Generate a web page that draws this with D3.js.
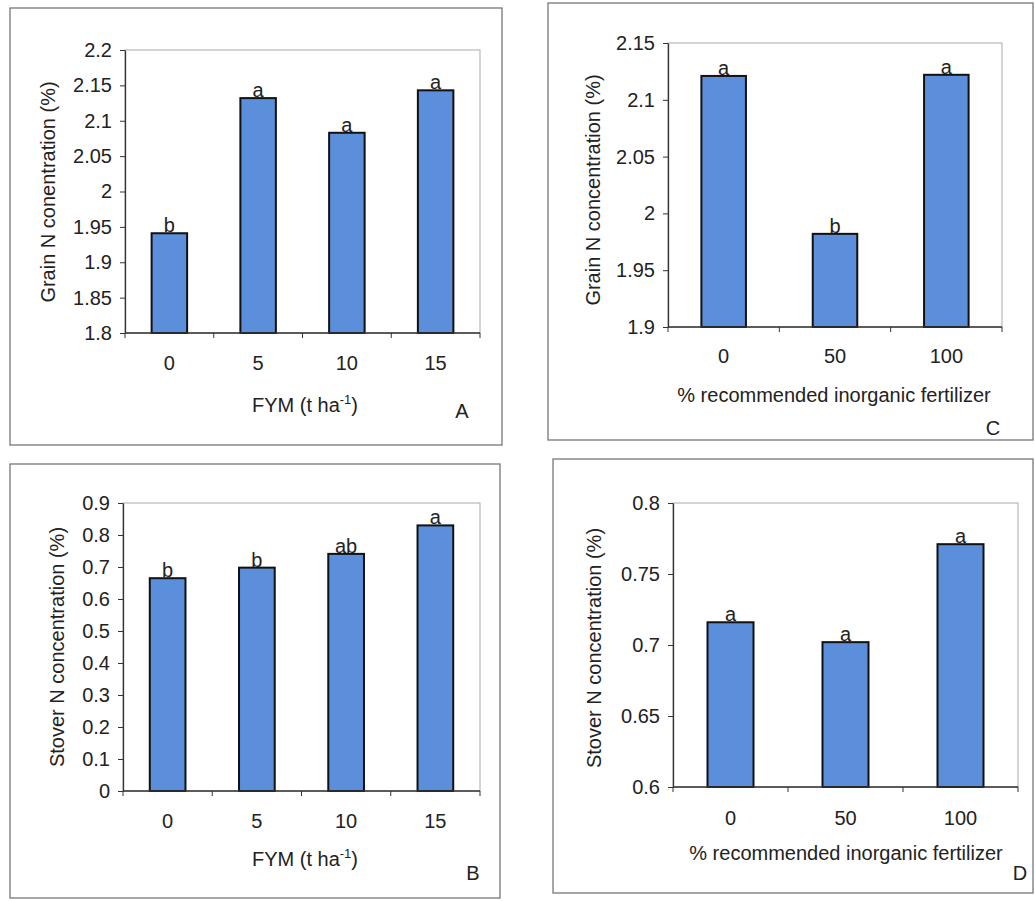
<!DOCTYPE html>
<html>
<head>
<meta charset="utf-8">
<script src="https://cdn.jsdelivr.net/npm/d3@7"></script>
<style>
  body { margin: 0; background: #fff; }
  svg { font-family: "Liberation Sans", Arial, sans-serif; }
</style>
</head>
<body>
<div id="container"></div>
<script>
// panel A - grain N vs FYM
const fymLevels = ["0", "5", "10", "15"];
const grainFym = [1.941, 2.132, 2.083, 2.143];
const grainFymLetters = ["b", "a", "a", "a"];
const grainFymTicks = [1.8, 1.85, 1.9, 1.95, 2, 2.05, 2.1, 2.15, 2.2];

// panel B - stover N vs FYM
const stoverFym = [0.665, 0.698, 0.741, 0.830];
const stoverFymLetters = ["b", "b", "ab", "a"];
const stoverFymTicks = [0, 0.1, 0.2, 0.3, 0.4, 0.5, 0.6, 0.7, 0.8, 0.9];

// panel C - grain N vs inorganic fertilizer
const fertLevels = ["0", "50", "100"];
const grainFert = [2.121, 1.982, 2.122];
const grainFertLetters = ["a", "b", "a"];
const grainFertTicks = [1.9, 1.95, 2, 2.05, 2.1, 2.15];

// panel D - stover N vs inorganic fertilizer
const stoverFert = [0.716, 0.702, 0.771];
const stoverFertLetters = ["a", "a", "a"];
const stoverFertTicks = [0.6, 0.65, 0.7, 0.75, 0.8];

const width = 1035;
const height = 901;
const barColor = "#5b8fdb";
const ink = "#222";

const svg = d3.select("#container").append("svg")
  .attr("width", width)
  .attr("height", height);

function drawPanel(p) {
  // outer frame
  svg.append("rect")
    .attr("x", p.box[0]).attr("y", p.box[1])
    .attr("width", p.box[2] - p.box[0]).attr("height", p.box[3] - p.box[1])
    .attr("fill", "none").attr("stroke", "#777").attr("stroke-width", 1.3);

  const x = d3.scaleBand()
    .domain(p.cats)
    .range([p.left, p.right])
    .paddingInner(0.6).paddingOuter(0.3);

  const y = d3.scaleLinear()
    .domain([p.ticks[0], p.ticks[p.ticks.length - 1]])
    .range([p.bottom, p.top]);

  // plot area frame (light)
  svg.append("rect")
    .attr("x", p.left).attr("y", p.top)
    .attr("width", p.right - p.left).attr("height", p.bottom - p.top)
    .attr("fill", "none").attr("stroke", "#aaa").attr("stroke-width", 1);

  svg.append("g")
    .selectAll("rect")
    .data(p.values)
    .join("rect")
    .attr("x", (d, i) => x(p.cats[i]))
    .attr("y", d => y(d))
    .attr("width", x.bandwidth())
    .attr("height", d => y(p.ticks[0]) - y(d))
    .attr("fill", barColor)
    .attr("stroke", "#111")
    .attr("stroke-width", 2);

  svg.append("g")
    .selectAll("text")
    .data(p.letters)
    .join("text")
    .attr("x", (d, i) => x(p.cats[i]) + x.bandwidth() / 2)
    .attr("y", (d, i) => y(p.values[i]) - 1)
    .attr("text-anchor", "middle")
    .attr("font-size", 20)
    .attr("fill", ink)
    .text(d => d);

  // y axis
  svg.append("g")
    .attr("transform", `translate(${p.left},0)`)
    .call(d3.axisLeft(y).tickValues(p.ticks).tickSize(5).tickPadding(8).tickSizeOuter(0).tickFormat(d3.format("~g")))
    .call(g => g.select(".domain").attr("stroke", "#333").attr("stroke-width", 1.3))
    .call(g => g.selectAll(".tick line").attr("stroke", "#333"))
    .call(g => g.selectAll(".tick text").attr("font-size", 20).attr("fill", ink));

  // x axis: ticks at category boundaries
  const bounds = d3.range(p.cats.length + 1).map(i => p.left + i * (p.right - p.left) / p.cats.length);
  const xAxis = svg.append("g");
  xAxis.append("line")
    .attr("x1", p.left).attr("x2", p.right)
    .attr("y1", p.bottom).attr("y2", p.bottom)
    .attr("stroke", "#333").attr("stroke-width", 1.3);
  xAxis.selectAll("line.tk")
    .data(bounds)
    .join("line")
    .attr("class", "tk")
    .attr("x1", d => d).attr("x2", d => d)
    .attr("y1", p.bottom).attr("y2", p.bottom + 5)
    .attr("stroke", "#333");
  xAxis.selectAll("text")
    .data(p.cats)
    .join("text")
    .attr("x", d => x(d) + x.bandwidth() / 2)
    .attr("y", p.bottom + p.tickGap)
    .attr("text-anchor", "middle")
    .attr("font-size", 20)
    .attr("fill", ink)
    .text(d => d);

  // x title
  const xt = svg.append("text")
    .attr("x", p.xTitle[0]).attr("y", p.xTitle[1])
    .attr("text-anchor", "middle")
    .attr("font-size", 20)
    .attr("fill", ink);
  if (p.sup) {
    xt.append("tspan").text("FYM (t ha");
    xt.append("tspan").attr("dy", -8).attr("font-size", 13).text("-1");
    xt.append("tspan").attr("dy", 8).text(")");
  } else {
    xt.text(p.xLabel);
  }

  // y title
  svg.append("text")
    .attr("transform", `translate(${p.yTitle[0]},${p.yTitle[1]}) rotate(-90)`)
    .attr("text-anchor", "middle")
    .attr("font-size", 20)
    .attr("fill", ink)
    .text(p.yLabel);

  // panel letter
  svg.append("text")
    .attr("x", p.tag[0]).attr("y", p.tag[1])
    .attr("text-anchor", "middle")
    .attr("font-size", 20)
    .attr("fill", ink)
    .text(p.tagText);
}

drawPanel({
  box: [10, 8, 502, 445],
  left: 125, right: 480, top: 50, bottom: 333, tickGap: 37,
  cats: fymLevels, values: grainFym, letters: grainFymLetters, ticks: grainFymTicks,
  sup: true, xTitle: [305, 412],
  yLabel: "Grain N conentration (%)", yTitle: [55, 192],
  tag: [462, 418], tagText: "A"
});

drawPanel({
  box: [10, 464, 500, 898],
  left: 123, right: 480, top: 503, bottom: 791, tickGap: 37,
  cats: fymLevels, values: stoverFym, letters: stoverFymLetters, ticks: stoverFymTicks,
  sup: true, xTitle: [305, 866],
  yLabel: "Stover N concentration (%)", yTitle: [64, 647],
  tag: [473, 880], tagText: "B"
});

drawPanel({
  box: [548, 3, 1033, 440],
  left: 668, right: 1002, top: 43, bottom: 327, tickGap: 36,
  cats: fertLevels, values: grainFert, letters: grainFertLetters, ticks: grainFertTicks,
  xLabel: "% recommended inorganic fertilizer", xTitle: [834, 402],
  yLabel: "Grain N concentration (%)", yTitle: [600, 190],
  tag: [993, 435], tagText: "C"
});

drawPanel({
  box: [553, 459, 1033, 893],
  left: 673, right: 1018, top: 503, bottom: 787, tickGap: 38,
  cats: fertLevels, values: stoverFert, letters: stoverFertLetters, ticks: stoverFertTicks,
  xLabel: "% recommended inorganic fertilizer", xTitle: [846, 860],
  yLabel: "Stover N concentration (%)", yTitle: [601, 648],
  tag: [1020, 880], tagText: "D"
});
</script>
</body>
</html>
